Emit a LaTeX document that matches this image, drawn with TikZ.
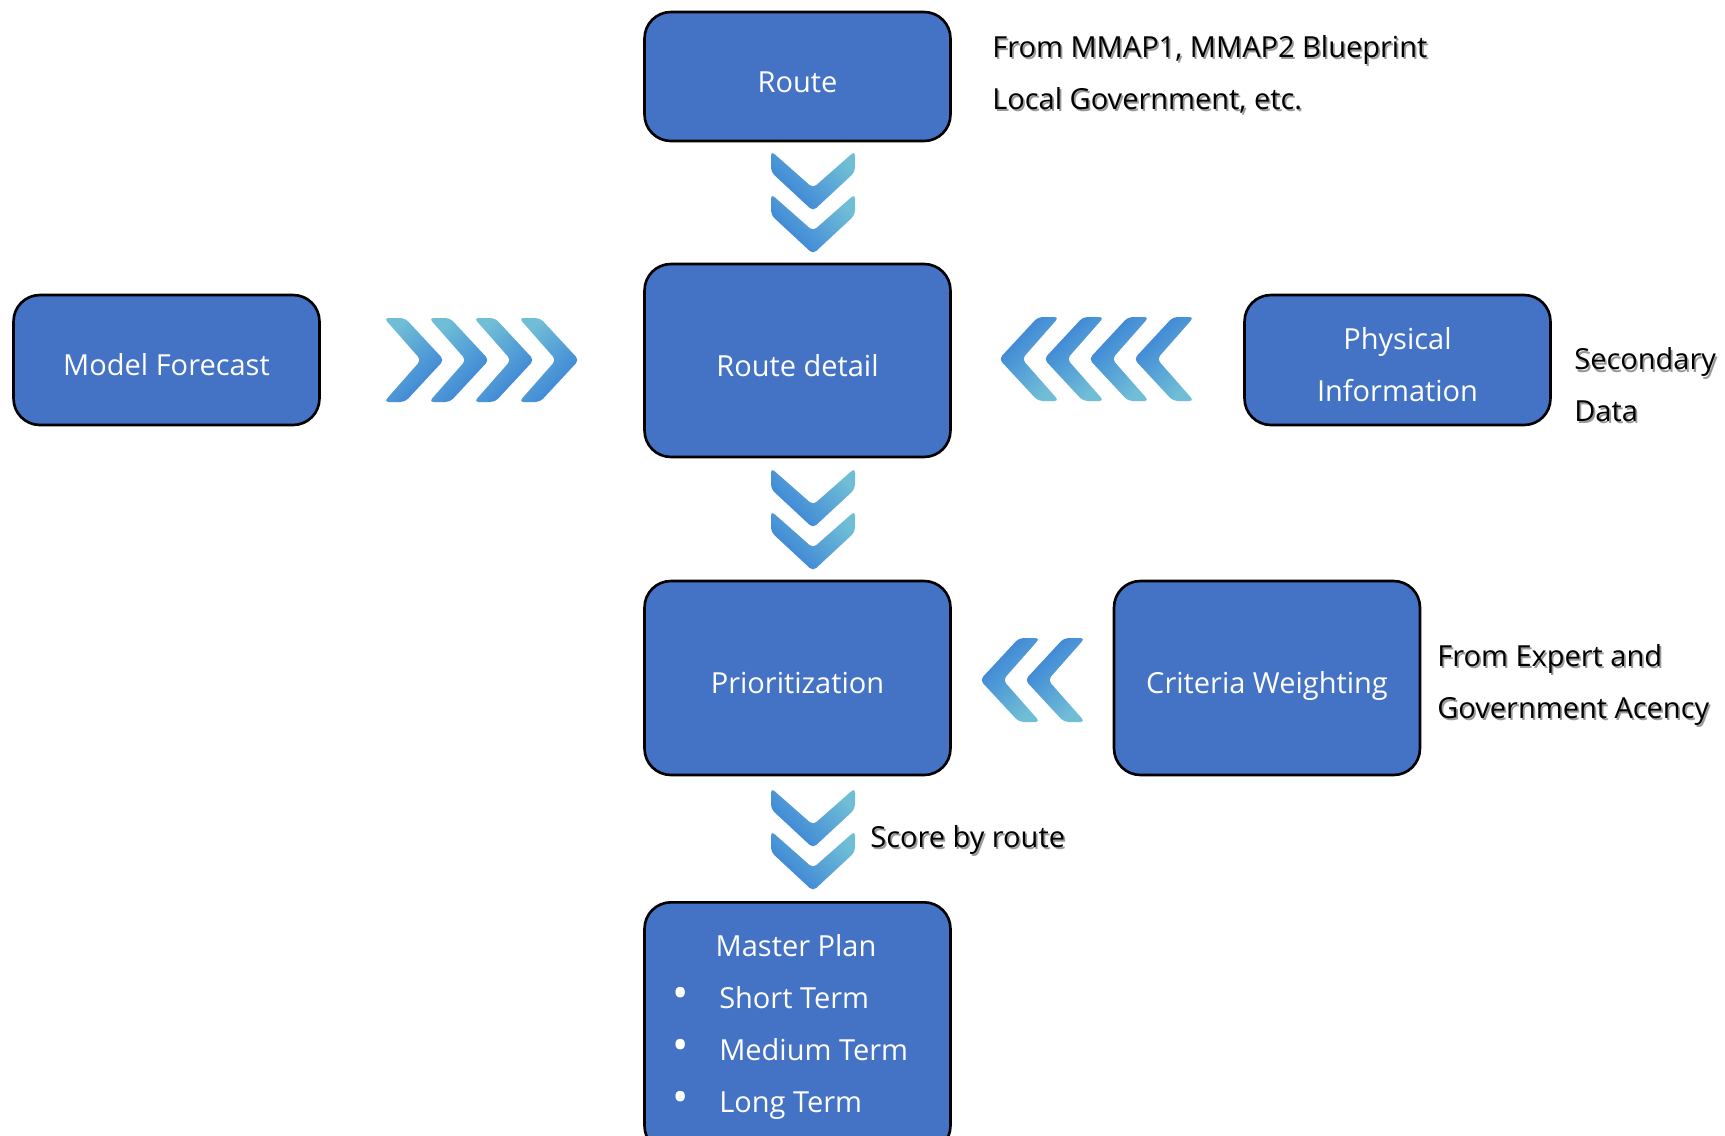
\documentclass[tikz,border=0pt]{standalone}
\usepackage{fontspec}
\usepackage{graphicx}
\setmainfont{Open Sans}

\definecolor{boxblue}{RGB}{68,114,196}
\definecolor{chevlight}{RGB}{112,190,214}
\definecolor{chevdark}{RGB}{56,128,214}
\newcommand{\shadowed}[1]{\makebox[0pt][l]{\hspace{1pt}\raisebox{-1.2pt}{\textcolor{black!40}{#1}}}#1}
\newcommand{\termdot}{\makebox[26.7pt][l]{\scalebox{1.5}{\textbullet}}}

\tikzset{
	box/.style={draw=black,line width=1.5pt,fill=boxblue,rounded corners=15pt,minimum width=6.12cm,
		text=white,align=center,font=\fontsize{16.5}{29.5}\selectfont,
		execute at begin node={\rule{0pt}{18pt}}},
	note/.style={anchor=west,align=left,inner sep=0pt,font=\fontsize{16.5}{29.5}\selectfont},
	pics/chev/.style={code={
		\shade[top color=chevlight,bottom color=chevdark,shading angle=#1,rounded corners=2.5pt]
			(0,-42)--(21,-42)--(60,0)--(21,42)--(0,42)--(37,0)--cycle;
	}}
}

\begin{document}
\begin{tikzpicture}[x=0.02cm,y=-0.02cm]
	\clip (0,0) rectangle (1725,1136);
	
	\node[box,minimum height=2.58cm] (route) at (797.5,76.5) {Route};
	\node[box,minimum height=3.86cm] (detail) at (797.5,360.5) {Route detail};
	\node[box,minimum height=2.6cm] (model) at (166.5,360) {Model Forecast};
	\node[box,minimum height=2.6cm,execute at begin node={}] (physical) at (1397.5,360) {\rule{0pt}{18pt}Physical \\ Information};
	\node[box,minimum height=3.88cm] (prior) at (797.5,678) {Prioritization};
	\node[box,minimum height=3.88cm,execute at begin node={\rule{0pt}{22pt}}] (criteria) at (1267,678) {Criteria Weighting};
	\node[box,minimum height=5cm,anchor=north] (master) at (797.5,901) {};
	
	\node[note,anchor=center,text=white] (mastertitle) at (796,946) {Master Plan};
	\node[note,text=white] (terms) at (672,1053) {\termdot Short Term \\ \termdot Medium Term \\ \termdot Long Term};
	
	\foreach \i in {0,...,3} \pic at (384+45*\i,360) {chev=45};	%Model Forecast
	\foreach \i in {0,...,3} \pic[rotate=180] at (1194-45*\i,359) {chev=225};	%Physical
	\foreach \i in {0,1} \pic[rotate=180] at (1085-45*\i,680) {chev=225};	%Criteria
	\foreach \y in {151,468,788}
		\foreach \i in {0,1} \pic[rotate=-90] at (813,\y+43*\i) {chev=-45};	%down
	
	\node[note] (mmapnote) at (992,75) {\shadowed{From MMAP1, MMAP2 Blueprint} \\ \shadowed{Local Government, etc.}};
	\node[note] (secnote) at (1574,386) {\shadowed{Secondary} \\ \shadowed{Data}};
	\node[note] (expertnote) at (1437,686) {\shadowed{From Expert and} \\ \shadowed{Government Acency}};
	\node[note] (scorenote) at (870,841) {\shadowed{Score by route}};
\end{tikzpicture}
\end{document}
